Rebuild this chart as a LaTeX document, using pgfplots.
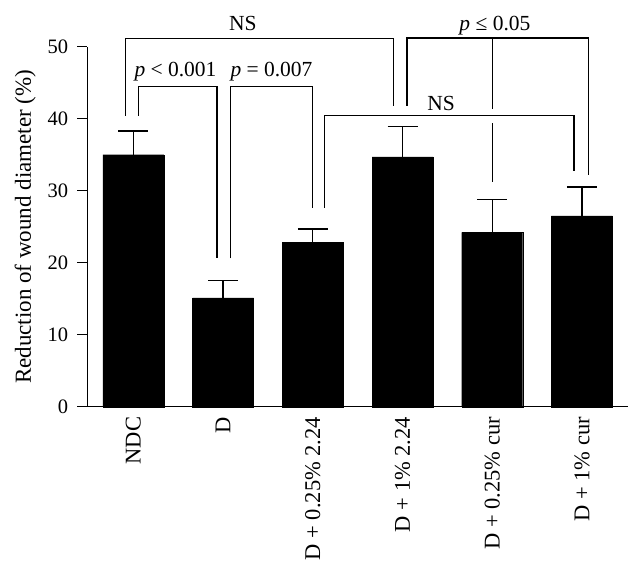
\documentclass[border=0pt]{standalone}
\usepackage{pgfplots}
\pgfplotsset{compat=1.18}
\usepackage{fontspec}
\setmainfont{Liberation Serif}
\begin{document}
\begin{tikzpicture}
\path[use as bounding box] (-87.3pt,-159.3pt) rectangle ++(642pt,566pt);
\begin{axis}[
  at={(0pt,0pt)}, anchor=south west,
  scale only axis, width=540.7pt, height=360pt,
  xmin=-0.513, xmax=5.513, ymin=0, ymax=50,
  axis x line=bottom, axis y line=left,
  axis line style={line width=1.4pt, -},
  xtick={0,1,2,3,4,5},
  xticklabels={NDC, D, D + 0.25\% 2.24, D + 1\% 2.24, D + 0.25\% cur, D + 1\% cur},
  x tick style={draw=none},
  ytick={0,10,20,30,40,50},
  y tick style={line width=1.4pt, black},
  tick align=outside, major tick length=10pt,
  /pgf/number format/assume math mode=true,
  yticklabel style={font=\fontsize{20.5}{24}\selectfont, inner sep=0pt, xshift=-9pt},
  xticklabel style={font=\fontsize{22.5}{27}\selectfont, rotate=90, anchor=east, inner sep=0pt},
  xticklabel shift=0pt,
  ylabel={Reduction of wound diameter (\%)},
  ylabel style={font=\fontsize{23}{27}\selectfont, at={(axis description cs:-0.1147,0.5)}, anchor=center},
  clip=false,
]
\addplot[ybar, bar width=61pt, fill=black, draw=black,
  error bars/.cd, y dir=plus, y explicit,
  error bar style={line width=1.4pt, black},
  error mark options={rotate=90, line width=1.4pt, mark size=15pt, black}]
  coordinates {
  (0,35.0) +- (0,3.3)
  (1,15.1) +- (0,2.4)
  (2,22.8) +- (0,1.9)
  (3,34.7) +- (0,4.2)
  (4,24.2) +- (0,4.6)
  (5,26.5) +- (0,4.0)
  };
% brackets
\addplot[black, line width=1.2pt] coordinates {(-0.09,40.4) (-0.09,51.1) (2.9,51.1) (2.9,41.8)};
\addplot[black, line width=1.2pt] coordinates {(0.06,40.4) (0.06,44.5) (0.933,44.5) (0.933,20.6)};
\addplot[black, line width=1.2pt] coordinates {(1.08,20.6) (1.08,44.5) (2.0,44.5) (2.0,27.6)};
\addplot[black, line width=1.2pt] coordinates {(2.13,27.6) (2.13,40.4) (4.91,40.4) (4.91,32.7)};
\addplot[black, line width=1.2pt] coordinates {(3.05,41.8) (3.05,51.2) (5.07,51.2) (5.07,32.2)};
\addplot[black, line width=1.2pt] coordinates {(4,51.2) (4,41.3)};
\addplot[black, line width=1.2pt] coordinates {(4,39.4) (4,31.2)};
\node[anchor=base, font=\fontsize{21.5}{25}\selectfont] at (axis cs:1.22,52.3) {NS};
\node[anchor=base, font=\fontsize{21.5}{25}\selectfont] at (axis cs:4.03,52.3) {\textit{p} ≤ 0.05};
\node[anchor=base, font=\fontsize{21.5}{25}\selectfont] at (axis cs:0.47,45.8) {\textit{p} < 0.001};
\node[anchor=base, font=\fontsize{21.5}{25}\selectfont] at (axis cs:1.54,45.8) {\textit{p} = 0.007};
\node[anchor=base, font=\fontsize{21.5}{25}\selectfont] at (axis cs:3.43,41.2) {NS};
\end{axis}
\end{tikzpicture}
\end{document}
